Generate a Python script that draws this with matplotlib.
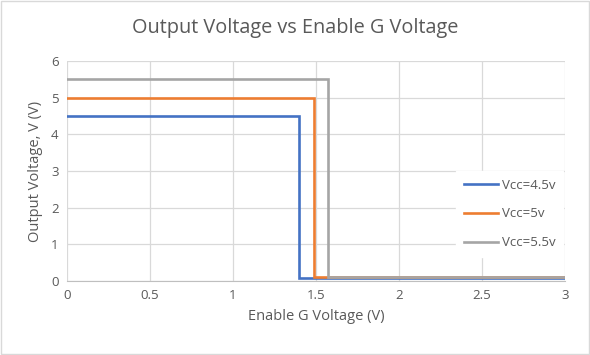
import matplotlib.pyplot as plt

# data
vcc_labels = ["Vcc=4.5v", "Vcc=5v", "Vcc=5.5v"]
x_45 = [0, 1.40, 1.40, 3.0]
y_45 = [4.5, 4.5, 0.08, 0.08]
x_50 = [0, 1.49, 1.49, 3.0]
y_50 = [5.0, 5.0, 0.10, 0.10]
x_55 = [0, 1.57, 1.57, 3.0]
y_55 = [5.5, 5.5, 0.12, 0.12]

colors = ['#4472C4', '#ED7D31', '#A5A5A5']
txt = '#595959'

plt.rcParams['font.family'] = ['Open Sans', 'DejaVu Sans']

fig = plt.figure(figsize=(5.9, 3.55), dpi=100)
ax = fig.add_axes([67/590, 1 - 281/355, (565-67)/590, (281-61)/355])

lines = []
for xs, ys, c in zip([x_45, x_50, x_55], [y_45, y_50, y_55], colors):
    l, = ax.plot(xs, ys, color=c, linewidth=1.9, solid_joinstyle='miter')
    lines.append(l)

ax.set_xlim(0, 3)
ax.set_ylim(0, 6)
ax.set_xticks([0, 0.5, 1, 1.5, 2, 2.5, 3])
ax.set_xticklabels(['0', '0.5', '1', '1.5', '2', '2.5', '3'])
ax.set_yticks(range(0, 7))
ax.grid(True, color='#D9D9D9', linewidth=0.9)
ax.set_axisbelow(True)
for s in ['top', 'right']:
    ax.spines[s].set_visible(False)
ax.spines['left'].set_visible(False)
ax.spines['bottom'].set_color('#BFBFBF')
ax.tick_params(length=0, colors=txt, labelsize=9.5, pad=6)

ax.set_xlabel('Enable G Voltage (V)', color=txt, fontsize=10.5, labelpad=5)
ax.set_ylabel('Output Voltage, V (V)', color=txt, fontsize=10.5, labelpad=6)
fig.text(0.5, 1 - 28/355, 'Output Voltage vs Enable G Voltage', ha='center', va='center',
         color=txt, fontsize=14.3)

leg = ax.legend(lines, vcc_labels, loc='center right', bbox_to_anchor=(1.01, 0.305),
                frameon=True, fancybox=False, edgecolor='white', framealpha=1,
                fontsize=9.5, handlelength=2.6, labelspacing=1.2, borderpad=0.6,
                handletextpad=0.3)
for t in leg.get_texts():
    t.set_color(txt)

# light border around the chart
fig.patches.append(plt.Rectangle((0.002, 0.003), 0.996, 0.994, transform=fig.transFigure,
                                 fill=False, edgecolor='#D9D9D9', linewidth=1))

fig.savefig('out.png', dpi=100)
